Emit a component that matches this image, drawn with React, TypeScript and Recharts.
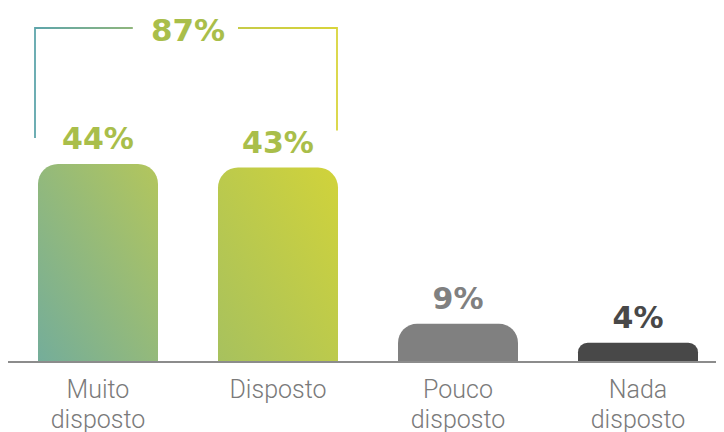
import React from "react";
import { BarChart, Bar, XAxis, YAxis, Cell, LabelList } from "recharts";

const categories = ["Muito disposto", "Disposto", "Pouco disposto", "Nada disposto"];
const values = [44, 43.2, 8.5, 4.3];
const valueLabels = ["44%", "43%", "9%", "4%"];
const bracketLabel = "87%";

const barFills = ["url(#gMuito)", "url(#gDisposto)", "#808080", "#484848"];
const labelColors = ["#a9be4a", "#a9be4a", "#808080", "#484848"];

const data = categories.map((c, i) => ({ name: c, value: values[i], label: valueLabels[i] }));

const FONT_BOLD = "'DejaVu Sans', sans-serif";
const FONT_LIGHT = "Roboto, 'Open Sans', sans-serif";
const BRACKET_TOP = 20;

const ValueLabel = (props: any) => {
  const { x, y, width, index } = props;
  const cx = Number(x) + Number(width) / 2;
  const w = Number(width);
  const bx = Number(x);
  const by = Number(y);
  const gap = w / 2;
  return (
    <g>
      {index === 0 && (
        <g>
          <path
            d={`M ${bx - 3} ${by - 26} L ${bx - 3} ${BRACKET_TOP} L ${bx + w * 0.79} ${BRACKET_TOP}`}
            fill="none"
            stroke="url(#gBracketL)"
            strokeWidth={1.8}
          />
          <text
            x={bx + w + gap / 2}
            y={BRACKET_TOP + 13}
            textAnchor="middle"
            fill="#a9be4a"
            fontFamily={FONT_BOLD}
            fontWeight="bold"
            fontSize={31}
          >
            {bracketLabel}
          </text>
        </g>
      )}
      {index === 1 && (
        <path
          d={`M ${bx + 20} ${BRACKET_TOP} L ${bx + w - 1} ${BRACKET_TOP} L ${bx + w - 1} ${by - 37}`}
          fill="none"
          stroke="url(#gBracketR)"
          strokeWidth={1.8}
        />
      )}
      <text
        x={cx}
        y={by - 15}
        textAnchor="middle"
        fill={labelColors[index]}
        fontFamily={FONT_BOLD}
        fontWeight="bold"
        fontSize={30}
      >
        {valueLabels[index]}
      </text>
    </g>
  );
};

const CategoryTick = (props: any) => {
  const { x, y, payload } = props;
  const words = String(payload.value).split(" ");
  return (
    <text
      x={x}
      y={y}
      textAnchor="middle"
      fill="#7a7a7a"
      fontFamily={FONT_LIGHT}
      fontWeight={300}
      fontSize={25}
    >
      {words.map((w: string, i: number) => (
        <tspan key={i} x={x} dy={i === 0 ? 28 : 30}>
          {w}
        </tspan>
      ))}
    </text>
  );
};

export default function App() {
  return (
    <BarChart
      width={724}
      height={424}
      data={data}
      margin={{ top: 3, right: 4, bottom: 0, left: 0 }}
      barCategoryGap={30}
    >
      <defs>
        <linearGradient id="gMuito" x1="0" y1="1" x2="1" y2="0">
          <stop offset="0%" stopColor="#74ad9a" />
          <stop offset="100%" stopColor="#b3c65c" />
        </linearGradient>
        <linearGradient id="gDisposto" x1="0" y1="1" x2="1" y2="0">
          <stop offset="0%" stopColor="#a7c15e" />
          <stop offset="100%" stopColor="#d1d33a" />
        </linearGradient>
        <linearGradient id="gBracketL" x1="0" y1="0" x2="1" y2="0">
          <stop offset="0%" stopColor="#5ea5ab" />
          <stop offset="100%" stopColor="#8fb67c" />
        </linearGradient>
        <linearGradient id="gBracketR" x1="0" y1="0" x2="1" y2="0">
          <stop offset="0%" stopColor="#c6cb48" />
          <stop offset="100%" stopColor="#d8d43a" />
        </linearGradient>
      </defs>
      <YAxis hide domain={[0, 78]} />
      <XAxis
        dataKey="name"
        height={70}
        tickLine={false}
        axisLine={{ stroke: "#8c8c8c", strokeWidth: 2 }}
        tick={<CategoryTick />}
        interval={0}
      />
      <Bar dataKey="value" radius={[20, 20, 0, 0]} isAnimationActive={false}>
        {data.map((d, i) => (
          <Cell key={d.name} fill={barFills[i]} />
        ))}
        <LabelList dataKey="value" content={<ValueLabel />} />
      </Bar>
    </BarChart>
  );
}
